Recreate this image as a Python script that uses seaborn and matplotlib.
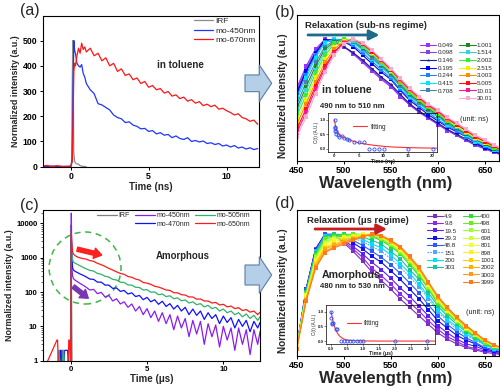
# ===============================
# IMPORTACIONES
# ===============================

import matplotlib
matplotlib.use("Agg")
import matplotlib.pyplot as plt
import matplotlib.patches as mpatches
from matplotlib.lines import Line2D
import seaborn as sns


# ===============================
# DATOS (a) - decay in toluene (ns)
# ===============================

t_a = [-1.8, -1.5, -1.2, -0.9, -0.6, -0.3, 0.0, 0.1, 0.15, 0.2, 0.25, 0.3, 0.4, 0.5, 0.6, 0.7, 0.8, 0.9,
       1.0, 1.25, 1.5, 1.75, 2.0, 2.25, 2.5, 2.75, 3.0, 3.25, 3.5, 3.75, 4.0, 4.25, 4.5, 4.75,
       5.0, 5.25, 5.5, 5.75, 6.0, 6.25, 6.5, 6.75, 7.0, 7.25, 7.5, 7.75, 8.0, 8.25, 8.5, 8.75,
       9.0, 9.25, 9.5, 9.75, 10.0, 10.25, 10.5, 10.75, 11.0, 11.25, 11.5, 11.75, 12.0]

mo450_a = [2, 0, 3, 1, 0, 2, 0, 30, 320, 500, 460, 450, 410, 400, 395, 405, 370, 355,
           330, 305, 290, 250, 245, 235, 225, 205, 195, 190, 175, 178, 165, 160, 150, 152,
           140, 143, 130, 135, 125, 128, 115, 122, 112, 108, 115, 100, 104, 98, 102, 92,
           95, 88, 92, 82, 86, 78, 84, 74, 78, 70, 75, 68, 72]

mo670_a = [3, 5, 0, 4, 2, 0, 3, 20, 200, 380, 410, 400, 440, 470, 450, 490, 465, 475,
           455, 470, 440, 450, 420, 432, 400, 410, 378, 388, 362, 368, 345, 352, 330, 338,
           315, 322, 305, 310, 292, 298, 280, 285, 270, 276, 260, 266, 252, 258, 242, 248,
           238, 244, 228, 232, 222, 215, 205, 210, 195, 190, 180, 185, 168]

irf_a_t = [-1.8, 0.0, 0.05, 0.1, 0.13, 0.16, 0.19, 0.25, 0.35, 0.5, 0.6, 0.8, 1.0]
irf_a = [0, 0, 5, 340, 500, 420, 60, 20, 12, 10, 4, 1, 0]


# ===============================
# DATOS (c) - amorphous decay (us)
# ===============================

t_c = [-1.8, -0.9, -0.86, -0.8, -0.76, -0.7, -0.66, -0.6, -0.56, -0.5, -0.46, -0.4,
       -0.2, -0.12, -0.08, 0.0, 0.04, 0.08, 0.12, 0.16, 0.2, 0.3, 0.45, 0.6, 0.8,
       1.0, 1.25, 1.5, 1.75, 2.0, 2.25, 2.5, 2.75, 3.0, 3.25, 3.5, 3.75,
       4.0, 4.25, 4.5, 4.75, 5.0, 5.25, 5.5, 5.75, 6.0, 6.25, 6.5, 6.75,
       7.0, 7.25, 7.5, 7.75, 8.0, 8.25, 8.5, 8.75, 9.0, 9.25, 9.5, 9.75,
       10.0, 10.25, 10.5, 10.75, 11.0, 11.25, 11.5, 11.75, 12.0, 12.25, 12.4]

mo450_c = [0.5, 0.5, 0.5, 0.5, 0.5, 0.5, 0.5, 2, 2, 0.5, 0.5, 0.5,
           0.5, 0.5, 0.5, 0.5, 20000, 500, 300, 260, 240, 220, 200, 180, 160,
           140, 115, 120, 90, 98, 72, 80, 55, 64, 45, 52, 36,
           45, 28, 38, 22, 33, 18, 28, 14, 25, 12, 22, 8,
           20, 9, 17, 5, 15, 6, 14, 3, 12, 5, 11, 2.5,
           10, 4, 9, 2, 9, 3, 8, 1.5, 8, 3, 7]

mo470_c = [0.5, 0.5, 0.5, 0.5, 0.5, 2, 2, 0.5, 0.5, 0.5, 0.5, 2,
           2, 0.5, 0.5, 0.5, 3500, 900, 520, 460, 430, 400, 370, 340, 310,
           280, 240, 235, 195, 195, 160, 160, 128, 132, 105, 112, 88,
           95, 74, 80, 60, 70, 52, 60, 44, 54, 38, 46, 32,
           41, 28, 36, 22, 32, 21, 28, 16, 25, 17, 22, 12,
           20, 13, 18, 9, 16, 10, 15, 7, 14, 9, 13]

mo505_c = [0.5, 0.5, 0.5, 2, 2, 0.5, 0.5, 0.5, 0.5, 2, 2, 0.5,
           0.5, 0.5, 0.5, 0.5, 4000, 1500, 900, 780, 740, 690, 640, 590, 530,
           480, 430, 410, 350, 330, 290, 275, 235, 225, 195, 190, 162,
           160, 138, 136, 115, 118, 99, 101, 84, 88, 74, 78, 64,
           68, 56, 59, 48, 52, 43, 46, 37, 41, 33, 36, 28,
           32, 25, 28, 22, 25, 19, 23, 17, 21, 15, 19]

mo650_c = [0.5, 4, 4, 0.5, 0.5, 0.5, 0.5, 0.5, 0.5, 0.5, 0.5, 0.5,
           0.5, 4, 4, 0.5, 5000, 2500, 1500, 1350, 1250, 1150, 1050, 1000, 950,
           920, 830, 790, 690, 630, 560, 490, 440, 390, 350, 330, 285,
           270, 240, 225, 190, 182, 168, 148, 140, 128, 115, 112, 96,
           95, 84, 82, 72, 72, 62, 63, 55, 55, 48, 50, 42,
           44, 37, 39, 33, 35, 29, 31, 26, 28, 22, 26]

irf_c_t = [-1.8, -0.02, 0.0, 0.02, 0.05, 0.09, 12.4]
irf_c = [0.5, 0.5, 60, 9000, 200, 0.5, 0.5]


# ===============================
# DATOS (b) - spectra in toluene
# ===============================

wl = [450, 460, 470, 480, 490, 500, 510, 520, 530, 540, 550, 560,
      570, 580, 590, 600, 610, 620, 630, 640, 650, 660, 670]

b_0049 = [.60, .78, .92, 1.00, .98, .94, .88, .81, .74, .67, .61, .53, .46, .40, .35, .30, .25, .21, .17, .13, .10, .07, .045]
b_0098 = [.58, .76, .90, 1.00, .97, .94, .89, .82, .75, .68, .62, .54, .47, .41, .36, .31, .26, .21, .17, .13, .10, .07, .05]
b_0146 = [.56, .74, .88, 1.00, .99, .94, .89, .83, .76, .69, .63, .55, .47, .41, .36, .31, .26, .22, .18, .14, .11, .08, .05]
b_0195 = [.55, .74, .89, .99, 1.00, .98, .94, .87, .80, .73, .67, .58, .50, .44, .38, .33, .28, .24, .20, .15, .11, .08, .05]
b_0244 = [.53, .71, .87, .98, 1.00, .99, .95, .89, .82, .75, .68, .59, .52, .45, .40, .34, .29, .25, .20, .16, .12, .09, .06]
b_0415 = [.50, .68, .85, .97, 1.00, 1.00, .97, .91, .84, .77, .70, .61, .53, .47, .41, .36, .30, .26, .21, .16, .13, .09, .06]
b_0708 = [.46, .65, .81, .94, .99, 1.00, .98, .92, .85, .78, .71, .62, .54, .48, .42, .37, .31, .26, .22, .17, .14, .10, .07]
b_1001 = [.43, .61, .78, .92, .98, 1.00, .99, .93, .87, .79, .72, .63, .55, .49, .43, .38, .32, .27, .22, .18, .14, .10, .07]
b_1514 = [.40, .58, .75, .90, .97, 1.00, .99, .94, .88, .80, .73, .64, .56, .50, .44, .39, .33, .28, .23, .18, .15, .11, .07]
b_2002 = [.37, .54, .72, .87, .96, 1.00, 1.00, .95, .89, .81, .74, .65, .57, .50, .44, .39, .33, .29, .24, .19, .15, .11, .08]
b_2515 = [.33, .50, .69, .84, .94, .99, 1.00, .96, .89, .82, .74, .66, .58, .51, .45, .40, .34, .29, .24, .19, .15, .12, .08]
b_3003 = [.30, .47, .65, .81, .92, .98, 1.00, .96, .90, .82, .75, .66, .58, .51, .45, .40, .34, .30, .25, .20, .16, .12, .08]
b_5005 = [.26, .43, .62, .78, .90, .97, 1.00, .96, .90, .83, .75, .67, .59, .52, .46, .41, .35, .30, .25, .20, .16, .12, .08]
b_1001x = [.23, .40, .59, .76, .89, .97, 1.00, .97, .91, .83, .76, .67, .59, .53, .46, .41, .35, .31, .26, .21, .17, .13, .09]
b_3001 = [.20, .36, .55, .73, .87, .96, 1.00, .97, .91, .84, .76, .68, .60, .53, .47, .42, .36, .31, .26, .21, .17, .13, .09]

b_labels = ["0.049", "0.098", "0.146", "0.195", "0.244", "0.415", "0.708",
            "1.001", "1.514", "2.002", "2.515", "3.003", "5.005", "10.01", "30.01"]
b_spectra = [b_0049, b_0098, b_0146, b_0195, b_0244, b_0415, b_0708,
             b_1001, b_1514, b_2002, b_2515, b_3003, b_5005, b_1001x, b_3001]
b_colors = ["#9b30ff", "#8a3fe0", "#1f1f8f", "#0000ff", "#1e7fff", "#00e5ff", "#4682b4",
            "#1e8a1e", "#33d6d6", "#33ee33", "#f0f000", "#ff8c00", "#ff1010", "#ff1493", "#ffaacc"]

ins_b_t = [0.049, 0.098, 0.146, 0.195, 0.244, 0.415, 0.708, 1.001, 1.514, 2.002, 2.515,
           3.003, 4.0, 5.005, 6.0, 7.0, 8.0, 9.0, 10.01, 15.0, 20.0]
ins_b_c = [1.0, 0.75, 0.62, 0.7, 0.6, 0.5, 0.47, 0.42, 0.44, 0.38, 0.34,
           0.3, 0.25, 0.22, 0.22, 0.0, 0.0, 0.0, 0.0, 0.0, 0.0]
fit_b_t = [0.0, 0.25, 0.5, 1.0, 1.5, 2.0, 3.0, 4.0, 5.0, 6.0, 8.0, 10.0, 12.0, 15.0, 18.0, 21.0]
fit_b = [1.0, 0.76, 0.62, 0.5, 0.43, 0.38, 0.31, 0.25, 0.2, 0.17, 0.12, 0.085, 0.06, 0.04, 0.028, 0.02]


# ===============================
# DATOS (d) - spectra amorphous
# ===============================

d_4p9 = [.07, .55, .88, 1.00, .98, .93, .86, .78, .69, .62, .55, .47, .40, .33, .26, .19, .14, .10, .07, .05, .03, .02, .01]
d_9p8 = [.07, .55, .88, 1.00, .98, .94, .88, .81, .72, .66, .59, .51, .44, .37, .29, .22, .16, .12, .08, .06, .04, .03, .01]
d_19p5 = [.07, .55, .87, 1.00, .99, .95, .90, .84, .77, .71, .64, .56, .49, .41, .33, .25, .19, .14, .10, .08, .05, .03, .02]
d_29p3 = [.07, .54, .87, 1.00, 1.00, .97, .93, .88, .82, .77, .70, .63, .55, .47, .38, .29, .23, .17, .13, .10, .06, .04, .03]
d_48p8 = [.07, .54, .86, 1.00, 1.00, .98, .95, .91, .86, .81, .75, .68, .60, .52, .42, .33, .26, .20, .15, .11, .07, .05, .03]
d_151 = [.07, .53, .86, .99, 1.00, .99, .97, .94, .90, .86, .80, .73, .65, .57, .47, .36, .29, .22, .17, .13, .09, .06, .04]
d_200 = [.07, .53, .85, .99, 1.00, .99, .98, .96, .92, .89, .83, .76, .68, .59, .49, .38, .30, .24, .18, .14, .09, .06, .04]
d_303 = [.07, .53, .85, .98, 1.00, 1.00, .99, .98, .95, .92, .86, .80, .71, .63, .52, .41, .33, .26, .20, .15, .10, .07, .04]
d_400 = [.07, .52, .83, .97, .99, 1.00, 1.00, 1.00, .98, .95, .90, .84, .75, .66, .55, .43, .35, .28, .21, .16, .11, .07, .05]
d_498 = [.07, .51, .82, .96, .98, .99, 1.00, 1.00, .99, .96, .91, .85, .77, .67, .56, .44, .36, .28, .22, .17, .11, .08, .05]
d_601 = [.07, .50, .81, .94, .97, .98, .99, 1.00, 1.00, .97, .92, .86, .78, .69, .57, .45, .37, .29, .22, .17, .12, .08, .05]
d_698 = [.07, .50, .79, .93, .96, .98, .99, 1.00, 1.00, .98, .93, .87, .79, .70, .58, .46, .37, .30, .23, .17, .12, .08, .05]
d_801 = [.06, .49, .78, .92, .95, .97, .98, 1.00, 1.00, .98, .93, .88, .79, .70, .58, .47, .38, .30, .23, .18, .12, .08, .06]
d_898 = [.06, .48, .77, .90, .94, .96, .98, .99, 1.00, .98, .94, .88, .80, .71, .59, .47, .38, .31, .24, .18, .12, .08, .06]
d_1001 = [.06, .47, .76, .89, .92, .95, .97, .99, 1.00, .98, .94, .89, .80, .71, .60, .48, .39, .31, .24, .18, .12, .09, .06]
d_2002 = [.06, .46, .74, .88, .91, .94, .96, .99, 1.00, .99, .94, .89, .81, .72, .60, .48, .39, .31, .24, .19, .13, .09, .06]
d_3003 = [.06, .46, .73, .86, .90, .93, .96, .98, 1.00, .99, .95, .90, .81, .72, .60, .49, .40, .32, .25, .19, .13, .09, .06]
d_3999 = [.06, .45, .72, .85, .89, .92, .95, .98, 1.00, .99, .95, .90, .82, .73, .61, .49, .40, .32, .25, .19, .13, .09, .06]

d_labels = ["4.9", "9.8", "19.5", "29.3", "48.8", "151", "200", "303",
            "400", "498", "601", "698", "801", "898", "1001", "2002", "3003", "3999"]
d_spectra = [d_4p9, d_9p8, d_19p5, d_29p3, d_48p8, d_151, d_200, d_303,
             d_400, d_498, d_601, d_698, d_801, d_898, d_1001, d_2002, d_3003, d_3999]
d_colors = ["#7b2fbe", "#8a2be2", "#6020ee", "#1010f0", "#2a5bff", "#4fa8ff", "#00ddff", "#19c3a0",
            "#33dd33", "#66ee22", "#99ff33", "#ccff33", "#eeff33", "#ffee22", "#ffd000", "#ffb000",
            "#ff9a1a", "#ff7a1a"]

ins_d_t = [0.0049, 0.0098, 0.0195, 0.0293, 0.0488, 0.151, 0.2, 0.303, 0.4, 0.498,
           0.601, 0.698, 0.801, 0.898, 1.001, 2.002, 3.003]
ins_d_c = [1.0, 0.78, 0.6, 0.58, 0.6, 0.4, 0.4, 0.0, 0.0, 0.0,
           0.0, 0.0, 0.0, 0.0, 0.0, 0.0, 0.0]
fit_d_t = [0.0, 0.05, 0.1, 0.15, 0.2, 0.25, 0.3, 0.4, 0.5, 0.6, 0.8, 1.0, 1.5, 2.0, 2.5, 3.0, 3.3]
fit_d = [1.0, 0.72, 0.52, 0.37, 0.27, 0.19, 0.14, 0.07, 0.035, 0.02, 0.01, 0.005, 0.0, 0.0, 0.0, 0.0, 0.0]


# ===============================
# ESTILO
# ===============================

sns.set_theme(style="ticks")
plt.rcParams["font.family"] = ["Liberation Sans", "DejaVu Sans"]
plt.rcParams["axes.linewidth"] = 0.8
plt.rcParams["axes.edgecolor"] = "black"


def style_ticks(ax, size, length=2.5):
    ax.tick_params(labelsize=size, length=length, width=0.7, pad=1.2, colors="black")
    for lab in ax.get_xticklabels() + ax.get_yticklabels():
        lab.set_fontweight("bold")


def line(ax, x, y, color, label=None, lw=0.9, **kw):
    sns.lineplot(x=x, y=y, color=color, lw=lw, label=label, ax=ax,
                 estimator=None, sort=False, **kw)


# ===============================
# PANEL (a)
# ===============================

def plot_panel_a(ax):
    line(ax, irf_a_t, irf_a, "#8c8c8c", "IRF")
    line(ax, t_a, mo450_a, "#1f35ff", "mo-450nm")
    line(ax, t_a, mo670_a, "#ff1414", "mo-670nm")

    ax.set_xlim(-1.8, 12.1)
    ax.set_ylim(-1.2, 599)
    ax.set_xticks([0, 5, 10])
    ax.set_yticks([0, 100, 200, 300, 400, 500])
    style_ticks(ax, 6.3)

    ax.set_xlabel("Time (ns)", fontsize=7, fontweight="bold", labelpad=0.5)
    ax.set_ylabel("Normalized intensity (a.u.)", fontsize=6.4, fontweight="bold", labelpad=2)

    ax.text(0.634, 0.674, "in toluene", transform=ax.transAxes, fontsize=7.1,
            fontweight="bold", ha="center", va="center")

    ax.legend(loc="upper left", bbox_to_anchor=(0.70, 0.99), frameon=False, fontsize=6,
              handlelength=2.2, handletextpad=0.3, labelspacing=0.2,
              borderaxespad=0, borderpad=0)


# ===============================
# PANEL (c)
# ===============================

def plot_panel_c(ax):
    ax.set_yscale("log")
    line(ax, irf_c_t, irf_c, "#7f7f7f", "IRF")
    line(ax, t_c, mo450_c, "#8a1cf0", "mo-450nm")
    line(ax, t_c, mo470_c, "#1010ff", "mo-470nm")
    line(ax, t_c, mo505_c, "#2db36b", "mo-505nm")
    line(ax, t_c, mo650_c, "#ff1a1a", "mo-650nm")

    ax.set_xlim(-1.835, 12.4)
    ax.set_ylim(1, 24770)
    ax.set_xticks([0, 5, 10])
    ax.set_yticks([1, 10, 100, 1000, 10000])
    ax.set_yticklabels(["1", "10", "100", "1000", "10000"])
    style_ticks(ax, 5.6)
    ax.tick_params(axis="y", which="minor", length=1.5, width=0.5)

    ax.set_xlabel("Time (\u03bcs)", fontsize=7, fontweight="bold", labelpad=0.5)
    ax.set_ylabel("Normalized intensity (a.u.)", fontsize=6.4, fontweight="bold", labelpad=2)

    ax.text(0.646, 0.695, "Amorphous", transform=ax.transAxes, fontsize=6.9,
            fontweight="bold", ha="center", va="center")

    ax.add_patch(mpatches.Ellipse((0.195, 0.615), 0.331, 0.478, transform=ax.transAxes,
                                  fill=False, ec="#3db54a", lw=1.1, ls=(0, (4, 3))))
    ax.annotate("", xy=(2.03, 1200), xytext=(0.43, 1780),
                arrowprops=dict(arrowstyle="simple,head_length=0.55,head_width=0.75,tail_width=0.3",
                                color="#ff2020", mutation_scale=10, shrinkA=0, shrinkB=0))
    ax.annotate("", xy=(1.15, 66), xytext=(0.17, 145),
                arrowprops=dict(arrowstyle="simple,head_length=0.55,head_width=0.75,tail_width=0.3",
                                color="#7a35b5", mutation_scale=10, shrinkA=0, shrinkB=0))

    h, l = ax.get_legend_handles_labels()
    blank = Line2D([], [], color="none")
    ax.legend([h[0], blank, h[1], h[2], h[3], h[4]],
              [l[0], "", l[1], l[2], l[3], l[4]],
              ncol=3, loc="upper left", bbox_to_anchor=(0.249, 0.985), frameon=False,
              fontsize=5, handlelength=2.9, handletextpad=0.2, labelspacing=0.2,
              columnspacing=0.7, borderaxespad=0, borderpad=0)


# ===============================
# PANELES DE ESPECTROS (b, d)
# ===============================

def plot_spectra(ax, spectra, labels, colors, dotted=None):
    for vals, lab, col in zip(spectra, labels, colors):
        ls = (0, (1.5, 1)) if lab == dotted else "-"
        mk = "*" if lab == "0.146" else "s"
        line(ax, wl, vals, col, lab, lw=0.8, ls=ls, marker=mk, ms=2.6,
             mew=0, mec=col)

    ax.set_xlim(450, 665)
    ax.set_ylim(0, 1.2)
    ax.set_xticks([450, 500, 550, 600, 650])
    ax.set_yticks([])
    style_ticks(ax, 6.6)
    ax.set_xlabel("Wavelength (nm)", fontsize=12, fontweight="bold")
    ax.set_ylabel("Normalized intensity (a.u.)", fontsize=7.2, fontweight="bold")
    ax.xaxis.set_label_coords(0.441, -0.105)
    ax.yaxis.set_label_coords(-0.045, 0.445)


def spectra_legend(ax, n_first, n_blank, anchor, spacing):
    h, l = ax.get_legend_handles_labels()
    blank = Line2D([], [], color="none")
    handles = h[:n_first] + [blank] * n_blank + h[n_first:]
    labels = l[:n_first] + [""] * n_blank + l[n_first:]
    ax.legend(handles, labels, ncol=2, loc="upper left", bbox_to_anchor=anchor,
              frameon=False, fontsize=4.5, handlelength=2.6, handletextpad=0.2,
              labelspacing=spacing, columnspacing=1.0, borderaxespad=0, borderpad=0)


def plot_inset(ax, t, c, ft, f, xlim, xticks, xlabels, xlabel, leg_anchor):
    line(ax, ft, f, "#ff3030", "fitting", lw=0.8)
    line(ax, t, c, "#2f4fff", None, lw=0, marker="o", ms=2.3, mfc="none",
         mec="#2f4fff", mew=0.6)
    ax.set_facecolor("none")
    ax.set_xlim(*xlim)
    ax.set_ylim(-0.11, 1.23)
    ax.set_xticks(xticks)
    ax.set_xticklabels(xlabels)
    ax.set_yticks([0.0, 0.5, 1.0])
    ax.set_yticklabels(["0.0", "0.5", "1.0"])
    for s in ax.spines.values():
        s.set_linewidth(0.5)
    ax.tick_params(labelsize=3.2, length=1.2, width=0.4, pad=0.6)
    for lab in ax.get_xticklabels() + ax.get_yticklabels():
        lab.set_fontweight("bold")
    ax.set_xlabel(xlabel, fontsize=3.9, fontweight="bold", labelpad=0.5)
    ax.set_ylabel("C(t) (A.U.)", fontsize=3.3, labelpad=0.5)
    ax.legend(loc="center left", bbox_to_anchor=leg_anchor, frameon=False, fontsize=4.7,
              handlelength=2.2, handletextpad=0.5, borderaxespad=0, borderpad=0)


# ===============================
# FIGURA
# ===============================

fig = plt.figure(figsize=(5, 3.89), dpi=100)

ax_a = fig.add_axes([0.0854, 0.5707, 0.4332, 0.389])
ax_b = fig.add_axes([0.5934, 0.5861, 0.4046, 0.3753])
ax_c = fig.add_axes([0.0854, 0.0728, 0.4346, 0.3874])
ax_d = fig.add_axes([0.5934, 0.0848, 0.4046, 0.3753])

plot_panel_a(ax_a)
plot_panel_c(ax_c)

# (b)
plot_spectra(ax_b, b_spectra, b_labels, b_colors)
spectra_legend(ax_b, 7, 1, (0.609, 0.812), 0.36)
ax_b.text(0.876, 0.281, "(unit: ns)", transform=ax_b.transAxes, fontsize=5.2,
          ha="center", va="center")
ax_b.text(0.041, 0.925, "Relaxation (sub-ns regime)", transform=ax_b.transAxes,
          fontsize=6.8, fontweight="bold", va="center", zorder=5)
ax_b.annotate("", xy=(538, 1.036), xytext=(462, 1.036),
              arrowprops=dict(arrowstyle="-|>,head_length=0.6,head_width=0.3",
                              color="#1d6a8a", lw=2.0, mutation_scale=10, shrinkA=0, shrinkB=0))
ax_b.text(0.125, 0.486, "in toluene", transform=ax_b.transAxes, fontsize=7.6,
          fontweight="bold", va="center")
ax_b.text(0.115, 0.37, "490 nm to 510 nm", transform=ax_b.transAxes, fontsize=5.6,
          fontweight="bold", va="center")

# (d)
plot_spectra(ax_d, d_spectra, d_labels, d_colors, dotted="151")
spectra_legend(ax_d, 8, 2, (0.643, 0.975), 0.31)
ax_d.text(0.906, 0.295, "(unit: ns)", transform=ax_d.transAxes, fontsize=5.2,
          ha="center", va="center")
ax_d.text(0.051, 0.925, "Relaxation (\u03bcs regime)", transform=ax_d.transAxes,
          fontsize=6.8, fontweight="bold", va="center", zorder=5)
ax_d.annotate("", xy=(546, 1.044), xytext=(469.5, 1.044),
              arrowprops=dict(arrowstyle="-|>,head_length=0.6,head_width=0.3",
                              color="#c41e1e", lw=2.0, mutation_scale=10, shrinkA=0, shrinkB=0))
ax_d.text(0.125, 0.555, "Amorphous", transform=ax_d.transAxes, fontsize=7.6,
          fontweight="bold", va="center")
ax_d.text(0.115, 0.473, "480 nm to 530 nm", transform=ax_d.transAxes, fontsize=5.6,
          fontweight="bold", va="center")

# insets
ins_b = fig.add_axes([0.656, 0.6093, 0.218, 0.1003])
plot_inset(ins_b, ins_b_t, ins_b_c, fit_b_t, fit_b, (-1.3, 20.9),
           [0, 5, 10, 15, 20], ["0", "5", "10", "15", "20"], "Time (ns)", (0.23, 0.64))
ins_d = fig.add_axes([0.652, 0.1149, 0.218, 0.101])
plot_inset(ins_d, ins_d_t, ins_d_c, fit_d_t, fit_d, (-0.16, 3.26),
           [0, 0.5, 1.0, 1.5, 2.0, 2.5, 3.0], ["0.0", "0.5", "1.0", "1.5", "2.0", "2.5", "3.0"],
           "Time (\u03bcs)", (0.19, 0.52))

# flechas entre paneles
for yc, body, head in [(83.3, 16.7, 36.7), (275, 20, 36.7)]:
    fig.add_artist(mpatches.FancyArrow(245 / 500, 1 - yc / 389, 26.7 / 500, 0,
                                       width=body / 389, head_width=head / 389,
                                       head_length=12.4 / 500, length_includes_head=True,
                                       transform=fig.transFigure, fc="#b6cfe8",
                                       ec="#5b7fa6", lw=0.8))

# etiquetas de panel
for x, y, s in [(0.04, 0.972, "(a)"), (0.55, 0.969, "(b)"),
                (0.04, 0.473, "(c)"), (0.55, 0.478, "(d)")]:
    fig.text(x, y, s, fontsize=11.5, va="center", ha="left")

fig.savefig("out.png", dpi=100)
